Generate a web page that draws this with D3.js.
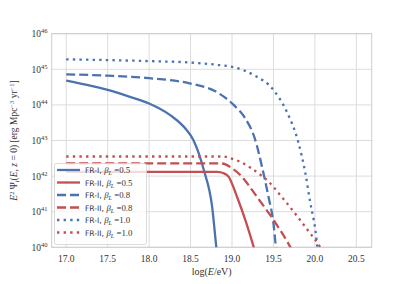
<!DOCTYPE html>
<html>
<head>
<meta charset="utf-8">
<script src="https://cdn.jsdelivr.net/npm/d3@7"></script>
<style>
  body { margin: 0; background: #fff; }
  svg { display: block; }
</style>
</head>
<body>
<svg></svg>
<script>
// values stored as [log10(E/eV), log10(E^2 Psi)]
var frI05 = [[17.0,44.68],[17.25,44.56],[17.5,44.42],[17.75,44.24],[18.0,44.04],[18.25,43.72],[18.45,43.30],[18.535,43.01],[18.66,42.17],[18.76,41.14],[18.81,40.02],[18.83,39.6]];
var frII05 = [[17.0,42.12],[18.0,42.12],[18.82,42.12],[18.9,42.08],[18.96,41.98],[19.06,41.42],[19.16,40.77],[19.26,40.02],[19.3,39.7]];
var frI08 = [[17.0,44.86],[17.5,44.82],[18.0,44.75],[18.5,44.60],[18.8,44.38],[19.02,44.0],[19.16,43.62],[19.28,43.02],[19.36,42.28],[19.44,41.42],[19.50,40.67],[19.53,40.0],[19.55,39.7]];
var frII08 = [[17.0,42.36],[18.85,42.36],[18.92,42.33],[19.0,42.22],[19.10,42.03],[19.30,41.42],[19.50,40.77],[19.70,40.02],[19.75,39.8]];
var frI10 = [[17.0,45.28],[18.0,45.23],[18.5,45.19],[18.84,45.12],[19.02,45.06],[19.26,44.84],[19.50,44.42],[19.66,43.81],[19.80,42.95],[19.885,42.08],[19.945,41.24],[20.005,40.49],[20.03,40.0],[20.05,39.7]];
var frII10 = [[17.0,42.55],[18.9,42.55],[18.98,42.50],[19.10,42.40],[19.22,42.24],[19.34,42.04],[19.46,41.80],[19.58,41.47],[19.70,41.13],[19.82,40.77],[19.94,40.40],[20.06,40.02],[20.1,39.85]];

var labels = ["FR-I", "FR-II", "FR-I", "FR-II", "FR-I", "FR-II"];
var betas = ["0.5", "0.5", "0.8", "0.8", "1.0", "1.0"];

var xTicks = [17.0, 17.5, 18.0, 18.5, 19.0, 19.5, 20.0, 20.5];
var yTicks = [40, 41, 42, 43, 44, 45, 46];

var blue = "#4c72b0", red = "#c44e52";
var series = [
  {data: frI05, color: blue, dash: null},
  {data: frII05, color: red, dash: null},
  {data: frI08, color: blue, dash: "9,4"},
  {data: frII08, color: red, dash: "9,4"},
  {data: frI10, color: blue, dash: "2.4,4.2"},
  {data: frII10, color: red, dash: "2.4,4.2"}
];

var width = 413, height = 284;
var pLeft = 51.7, pRight = 371.7, pTop = 33.7, pBottom = 247.3;

var x = d3.scaleLinear().domain([16.825, 20.685]).range([pLeft, pRight]);
var y = d3.scaleLog().domain([1e40, 1e46]).range([pBottom, pTop]);

var svg = d3.select("svg")
  .attr("width", width)
  .attr("height", height)
  .attr("viewBox", "0 0 " + width + " " + height);

svg.append("defs").append("clipPath").attr("id", "clip")
  .append("rect")
  .attr("x", pLeft).attr("y", pTop)
  .attr("width", pRight - pLeft).attr("height", pBottom - pTop);

// grid
var grid = svg.append("g");
grid.selectAll("line.gx")
  .data(xTicks)
  .enter()
  .append("line")
  .attr("x1", function (d) { return x(d); })
  .attr("x2", function (d) { return x(d); })
  .attr("y1", pTop).attr("y2", pBottom)
  .attr("stroke", "#dcdcdc").attr("stroke-width", 1);
grid.selectAll("line.gy")
  .data(yTicks)
  .enter()
  .append("line")
  .attr("y1", function (d) { return y(Math.pow(10, d)); })
  .attr("y2", function (d) { return y(Math.pow(10, d)); })
  .attr("x1", pLeft).attr("x2", pRight)
  .attr("stroke", "#dcdcdc").attr("stroke-width", 1);

// frame
svg.append("rect")
  .attr("x", pLeft).attr("y", pTop)
  .attr("width", pRight - pLeft).attr("height", pBottom - pTop)
  .attr("fill", "none").attr("stroke", "#cccccc").attr("stroke-width", 1);

// curves
var line = d3.line()
  .x(function (d) { return x(d[0]); })
  .y(function (d) { return y(Math.pow(10, d[1])); })
  .curve(d3.curveMonotoneX);

svg.append("g").attr("clip-path", "url(#clip)")
  .selectAll("path")
  .data(series)
  .enter()
  .append("path")
  .attr("d", function (d) { return line(d.data); })
  .attr("fill", "none")
  .attr("stroke", function (d) { return d.color; })
  .attr("stroke-width", 2.3)
  .attr("stroke-dasharray", function (d) { return d.dash; });

// x tick labels
svg.append("g").selectAll("text")
  .data(xTicks)
  .enter()
  .append("text")
  .attr("x", function (d) { return x(d); })
  .attr("y", 261.5)
  .attr("text-anchor", "middle")
  .style("font-family", "'Liberation Serif', serif")
  .style("font-size", "9.5px")
  .attr("fill", "#333")
  .text(function (d) { return d.toFixed(1); });

// y tick labels
var yt = svg.append("g").selectAll("text")
  .data(yTicks)
  .enter()
  .append("text")
  .attr("x", 47.5)
  .attr("y", function (d) { return y(Math.pow(10, d)) + 3.5; })
  .attr("text-anchor", "end")
  .style("font-family", "'Liberation Serif', serif")
  .style("font-size", "9.5px")
  .attr("fill", "#333");
yt.append("tspan").text("10");
yt.append("tspan")
  .attr("dy", -4)
  .style("font-size", "6.5px")
  .text(function (d) { return d; });

// x label
svg.append("text")
  .attr("x", (pLeft + pRight) / 2)
  .attr("y", 275)
  .attr("text-anchor", "middle")
  .style("font-family", "'Liberation Serif', serif")
  .style("font-size", "10px")
  .attr("fill", "#333")
  .html("log(<tspan font-style='italic'>E</tspan>/eV)");

// y label
var yl = svg.append("text")
  .attr("transform", "translate(17," + ((pTop + pBottom) / 2) + ") rotate(-90)")
  .attr("text-anchor", "middle")
  .style("font-family", "'Liberation Serif', serif")
  .style("font-size", "9.5px")
  .attr("fill", "#333");
yl.append("tspan").attr("font-style", "italic").text("E");
yl.append("tspan").attr("dy", -3.5).style("font-size", "6.5px").text("2");
yl.append("tspan").attr("dy", 3.5).text("\u00a0\u03a8");
yl.append("tspan").attr("dy", 2).style("font-size", "6.5px").attr("font-style", "italic").text("i");
yl.append("tspan").attr("dy", -2).text("(");
yl.append("tspan").attr("font-style", "italic").text("E");
yl.append("tspan").text(", ");
yl.append("tspan").attr("font-style", "italic").text("z");
yl.append("tspan").text(" = 0)  [erg Mpc");
yl.append("tspan").attr("dy", -3.5).style("font-size", "6.5px").text("\u22123");
yl.append("tspan").attr("dy", 3.5).text(" yr");
yl.append("tspan").attr("dy", -3.5).style("font-size", "6.5px").text("\u22121");
yl.append("tspan").attr("dy", 3.5).text("]");

// legend
var lg = svg.append("g");
lg.append("rect")
  .attr("x", 54.5).attr("y", 163.5)
  .attr("width", 92).attr("height", 81)
  .attr("rx", 2)
  .attr("fill", "#fff").attr("fill-opacity", 0.8)
  .attr("stroke", "#d0d0d0").attr("stroke-width", 0.8);

var rows = lg.selectAll("g.row")
  .data(series)
  .enter()
  .append("g")
  .attr("transform", function (d, i) { return "translate(0," + (170 + i * 12.5) + ")"; });

rows.append("line")
  .attr("x1", 57).attr("x2", 80)
  .attr("y1", 0).attr("y2", 0)
  .attr("stroke", function (d) { return d.color; })
  .attr("stroke-width", 2.3)
  .attr("stroke-dasharray", function (d) { return d.dash; });

var lt = rows.append("text")
  .attr("x", 85)
  .attr("y", 3)
  .style("font-family", "'Liberation Serif', serif")
  .style("font-size", "8.8px")
  .attr("fill", "#333");
lt.append("tspan")
  .style("font-family", "'DejaVu Sans', sans-serif")
  .style("font-size", "7.6px")
  .text(function (d, i) { return labels[i] + ", "; });
lt.append("tspan")
  .attr("font-style", "italic")
  .text("\u03b2");
lt.append("tspan")
  .attr("font-style", "italic")
  .style("font-size", "6.2px")
  .attr("dy", 2)
  .text("L");
lt.append("tspan")
  .attr("dy", -2)
  .text(function (d, i) { return " =" + betas[i]; });
</script>
</body>
</html>
